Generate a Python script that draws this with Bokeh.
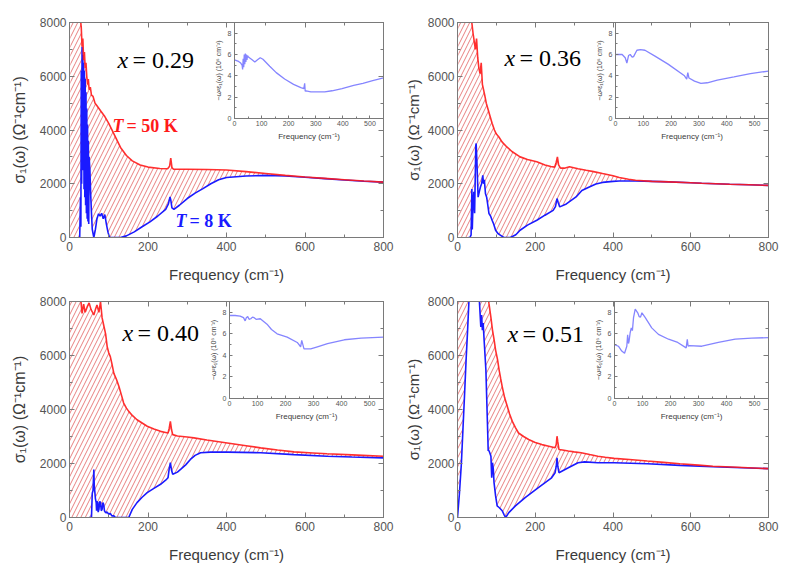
import numpy as np
from bokeh.plotting import figure
from bokeh.layouts import column, row
from bokeh.models import (Range1d, LinearAxis, SingleIntervalTicker, Label,
                          CustomJSTickFormatter)
from bokeh.embed import file_html
from bokeh.resources import INLINE

# ---------------- data ----------------
# panel x = 0.29
p1_red_x = [2, 8, 14, 20, 25, 30, 32, 34, 36, 38, 40, 42, 44, 46, 48, 50, 53, 56, 60, 65, 70, 80, 90, 100,
            115, 130, 145, 160, 180, 200, 230, 250, 255, 258, 261, 265, 300, 350, 400, 450, 500, 550, 600,
            650, 700, 750, 800]
p1_red_y = [30000, 18000, 12500, 9500, 8600, 7800, 7100, 7400, 6600, 6900, 6300, 6500, 6000, 5700, 5900,
            5500, 5600, 5300, 5250, 5000, 4900, 4700, 4500, 4250, 3800, 3350, 3050, 2850, 2700, 2620, 2570,
            2560, 2650, 2950, 2600, 2540, 2540, 2530, 2510, 2450, 2380, 2310, 2250, 2200, 2150, 2100, 2060]
p1_blue_x = [26, 28, 29, 30, 31, 32, 33, 34, 35, 36, 37, 38, 39, 40, 41, 42, 43, 44, 45, 46, 47, 48, 49,
             50, 52, 54, 56, 58, 62, 66, 70, 74, 78, 82, 86, 90, 94, 98, 102, 106, 130, 145, 165, 185, 205,
             225, 245, 252, 256, 258, 261, 266, 280, 300, 320, 340, 360, 380, 400, 450, 500, 550, 600, 650,
             700, 750, 800]
p1_blue_y = [0, 1500, 400, 6200, 2000, 7100, 3000, 6800, 2500, 6500, 1800, 6200, 1500, 5900, 1200, 5400,
             900, 4800, 700, 4200, 600, 3600, 500, 3000, 2500, 1600, 900, 300, 0, 300, 700, 880, 800, 900,
             700, 850, 500, 200, 0, 0, 0, 60, 210, 400, 580, 800, 1050, 1250, 1510, 1400, 1100, 1050, 1200,
             1450, 1650, 1820, 2000, 2150, 2230, 2290, 2310, 2290, 2240, 2190, 2140, 2095, 2060]
p1_in_x = [0, 15, 23, 28, 30, 32, 34, 36, 38, 40, 42, 44, 46, 48, 50, 55, 65, 75, 85, 95, 105, 130, 154,
           185, 218, 245, 256, 259, 261, 264, 282, 310, 333, 360, 397, 440, 474, 510, 550]
p1_in_y = [5.5, 5.35, 5.2, 5.0, 4.6, 5.6, 4.8, 6.0, 5.1, 6.1, 5.3, 6.0, 5.5, 5.9, 5.8, 5.7, 5.5, 5.3, 5.5,
           5.7, 5.55, 4.9, 4.3, 3.7, 3.2, 2.9, 2.8, 3.3, 2.55, 2.6, 2.5, 2.5, 2.5, 2.6, 2.8, 3.1, 3.3, 3.55,
           3.8]

# panel x = 0.36
p2_red_x = [2, 10, 20, 30, 36, 40, 43, 46, 49, 52, 55, 58, 61, 64, 67, 70, 74, 78, 83, 89, 95, 100, 106,
            115, 127, 140, 161, 180, 204, 225, 240, 250, 254, 257, 260, 265, 275, 288, 310, 331, 350, 373,
            400, 416, 440, 458, 500, 543, 600, 628, 700, 750, 800]
p2_red_y = [35000, 20000, 12000, 9000, 8100, 7600, 7300, 7000, 7400, 6700, 6300, 6100, 6500, 5700, 5500,
            5300, 5000, 4800, 4550, 4250, 4000, 3850, 3750, 3550, 3370, 3200, 3000, 2900, 2815, 2700, 2640,
            2620, 2800, 3000, 2700, 2580, 2580, 2630, 2560, 2500, 2450, 2380, 2300, 2230, 2170, 2130, 2090,
            2070, 2040, 2020, 1980, 1960, 1940]
p2_blue_x = [28, 32, 35, 37, 38, 40, 42, 44, 46, 47, 48, 50, 53, 56, 59, 62, 65, 67, 69, 72, 75, 78, 81,
             85, 89, 93, 98, 104, 110, 115, 119, 136, 150, 161, 180, 204, 225, 246, 252, 256, 259, 263, 280,
             305, 320, 339, 356, 373, 400, 416, 458, 500, 543, 600, 628, 700, 750, 800]
p2_blue_y = [0, 0, 100, 1800, 300, 1300, 1700, 900, 2500, 3400, 3500, 2800, 1500, 1700, 1880, 2000, 2310,
             2000, 2150, 1630, 1500, 1200, 890, 800, 640, 500, 270, 150, 90, 40, 0, 0, 100, 270, 460, 640,
             830, 1010, 1150, 1450, 1300, 1140, 1250, 1510, 1750, 1880, 1990, 2050, 2090, 2100, 2100, 2090,
             2070, 2040, 2020, 1980, 1960, 1940]
p2_in_x = [0, 24, 35, 41, 47, 53, 60, 65, 77, 90, 106, 142, 189, 248, 256, 260, 264, 284, 307, 330, 366,
           426, 485, 550]
p2_in_y = [6.0, 6.0, 5.7, 5.2, 5.9, 6.0, 5.75, 5.8, 6.4, 6.45, 6.4, 5.85, 5.1, 4.0, 3.7, 4.3, 3.8, 3.5,
           3.3, 3.35, 3.6, 3.9, 4.2, 4.45]

# panel x = 0.40
p3_red_x = [1, 10, 20, 28, 32, 36, 40, 45, 50, 55, 58, 62, 66, 70, 75, 79, 83, 87, 92, 96, 100, 104, 108,
            113, 120, 126, 132, 138, 145, 151, 160, 172, 185, 198, 215, 232, 245, 251, 254, 257, 260, 263,
            275, 300, 317, 350, 402, 450, 487, 530, 572, 620, 656, 720, 800]
p3_red_y = [30000, 15000, 10000, 8200, 7560, 7900, 7600, 7800, 7950, 7700, 7620, 7500, 7700, 7870, 7600,
            8000, 7400, 7130, 6800, 6330, 6100, 5960, 5700, 5340, 5100, 4850, 4550, 4240, 4050, 3930, 3780,
            3620, 3500, 3380, 3280, 3190, 3150, 3130, 3300, 3560, 3250, 3070, 3020, 2980, 2950, 2870, 2760,
            2660, 2580, 2500, 2430, 2390, 2360, 2320, 2270]
p3_blue_x = [50, 56, 58, 60, 62, 63, 64, 66, 68, 69, 70, 72, 73, 75, 77, 79, 81, 83, 85, 87, 89, 92, 96,
             100, 104, 108, 113, 117, 151, 160, 172, 185, 198, 215, 232, 245, 251, 254, 257, 260, 263, 275,
             283, 296, 308, 320, 334, 359, 402, 487, 572, 656, 720, 800]
p3_blue_y = [0, 0, 900, 1000, 1780, 1200, 1040, 700, 550, 250, 600, 550, 200, 300, 600, 550, 250, 300, 550,
             490, 250, 180, 200, 120, 150, 60, 60, 0, 0, 300, 550, 750, 920, 1080, 1230, 1380, 1470, 1800,
             2030, 1750, 1600, 1680, 1780, 1950, 2150, 2300, 2400, 2420, 2420, 2400, 2330, 2270, 2240, 2210]
p3_in_x = [0, 20, 38, 50, 56, 60, 65, 70, 76, 82, 88, 95, 110, 134, 150, 170, 206, 242, 254, 258, 262, 266,
           290, 314, 350, 410, 470, 550]
p3_in_y = [7.7, 7.7, 7.65, 7.5, 7.2, 7.5, 7.6, 7.35, 7.4, 7.55, 7.5, 7.35, 7.4, 6.9, 6.4, 6.0, 5.7, 5.2,
           4.8, 5.4, 5.0, 4.6, 4.6, 4.8, 5.1, 5.45, 5.6, 5.7]

# panel x = 0.51
p4_red_x = [0, 20, 40, 60, 75, 81, 86, 90, 94, 98, 103, 107, 111, 115, 121, 128, 134, 141, 149, 157, 170,
            183, 200, 217, 235, 251, 254, 256, 258, 261, 270, 285, 300, 318, 340, 361, 380, 403, 450, 488,
            530, 572, 620, 657, 720, 800]
p4_red_y = [40000, 25000, 15000, 10500, 8600, 7920, 7400, 6940, 6600, 6200, 5850, 5470, 5150, 4850, 4450,
            4120, 3830, 3560, 3330, 3130, 3000, 2890, 2780, 2700, 2640, 2580, 2700, 3010, 2800, 2520, 2500,
            2460, 2430, 2400, 2330, 2270, 2230, 2190, 2140, 2090, 2040, 1990, 1940, 1900, 1860, 1810]
p4_blue_x = [0, 5, 10, 14, 18, 22, 26, 30, 34, 40, 44, 47, 50, 53, 56, 60, 62, 64, 66, 69, 73, 77, 79, 80,
             83, 86, 88, 90, 92, 94, 98, 102, 107, 115, 120, 124, 132, 149, 174, 208, 242, 251, 254, 256,
             258, 261, 285, 310, 327, 361, 403, 488, 572, 657, 800]
p4_blue_y = [0, 900, 2000, 3260, 4500, 5800, 6940, 8200, 9500, 10500, 9800, 8300, 9500, 8400, 8100, 7060,
             7500, 6940, 7200, 6450, 5470, 3500, 2460, 2500, 2400, 2270, 1470, 2030, 1800, 1290, 800, 430,
             370, 250, 100, 0, 180, 430, 740, 1110, 1470, 1660, 1900, 2210, 1900, 1660, 1840, 2030, 2060,
             2030, 2030, 1990, 1930, 1880, 1810]
p4_in_x = [0, 14, 26, 36, 44, 47, 50, 52, 56, 60, 64, 68, 74, 83, 88, 93, 98, 110, 133, 157, 193, 226,
           256, 260, 263, 268, 312, 371, 431, 490, 550]
p4_in_y = [5.0, 4.85, 4.4, 4.2, 4.85, 5.9, 5.1, 5.3, 6.1, 6.55, 6.3, 7.5, 8.3, 7.95, 7.6, 7.55, 7.95, 7.5,
           6.55, 5.95, 5.5, 5.2, 4.7, 5.5, 4.85, 4.9, 4.85, 5.2, 5.5, 5.6, 5.65]

panel_labels = ["0.29", "0.36", "0.40", "0.51"]
temps = ["= 50 K", "= 8 K"]

X_RANGE = (0, 800)
Y_RANGE = (0, 8000)
INSET_X = (0, 550)
INSET_Y = (0, 9)

x_label = "Frequency (cm\u207b\u00b9)"
y_label = "\u03c3\u2081(\u03c9) (\u03a9\u207b\u00b9cm\u207b\u00b9)"
inset_y_label = "\u2212\u03c9\u00b2\u03b5\u2081(\u03c9) (10\u2076 cm\u207b\u00b2)"

# ---------------- styling ----------------
RED = "#ff1a1a"
BLUE = "#1a1aff"
INSET_BLUE = "#8585ff"
HATCH = "#e46a6a"
AX = "#7a7a7a"
SANS = "Liberation Sans"
SERIF = "Liberation Serif"

blank = CustomJSTickFormatter(code="return ''")


def style_axis(ax, ticker, label=None, label_size="15px", tick_size="12px", std=4, lstd=8):
    ax.ticker = ticker
    ax.axis_line_color = AX
    ax.major_tick_line_color = AX
    ax.minor_tick_line_color = AX
    ax.major_tick_in = 5
    ax.major_tick_out = 0
    ax.minor_tick_in = 3
    ax.minor_tick_out = 0
    ax.major_label_text_font = SANS
    ax.major_label_text_font_size = tick_size
    ax.major_label_text_color = "#555555"
    ax.major_label_standoff = std
    if label is not None:
        ax.axis_label = label
        ax.axis_label_text_font = SANS
        ax.axis_label_text_font_size = label_size
        ax.axis_label_text_font_style = "normal"
        ax.axis_label_text_color = "#3a3a3a"
        ax.axis_label_standoff = lstd


def make_panel(w, h, bl, br, bt, bb, red_x, red_y, blue_x, blue_y, in_x, in_y,
               inset_left, inset_h, comp, comp_pos, temp_pos=None, ylab_size="16px", ylab_std=9):
    p = figure(width=w, height=h, output_backend="svg", toolbar_location=None,
               x_range=Range1d(*X_RANGE), y_range=Range1d(*Y_RANGE),
               min_border_left=bl, min_border_right=br, min_border_top=bt, min_border_bottom=bb)
    p.grid.visible = False
    p.outline_line_color = AX
    p.background_fill_color = "white"
    p.border_fill_color = "white"

    style_axis(p.below[0], SingleIntervalTicker(interval=200, num_minor_ticks=2), x_label,
               std=4, lstd=12)
    style_axis(p.left[0], SingleIntervalTicker(interval=2000, num_minor_ticks=2), y_label,
               label_size=ylab_size, std=3, lstd=ylab_std)

    top = LinearAxis(formatter=blank)
    style_axis(top, SingleIntervalTicker(interval=200, num_minor_ticks=2), std=0)
    p.add_layout(top, "above")
    right = LinearAxis(formatter=blank)
    style_axis(right, SingleIntervalTicker(interval=2000, num_minor_ticks=2), std=0)
    p.add_layout(right, "right")

    # hatched region between the two temperatures
    bclip = [max(v, 0) for v in blue_y]
    px = list(red_x) + list(blue_x)[::-1] + [red_x[0]]
    py = list(red_y) + bclip[::-1] + [0]
    p.patch(px, py, fill_alpha=0, line_alpha=0, hatch_pattern="/", hatch_color=HATCH,
            hatch_alpha=0.85, hatch_weight=1, hatch_scale=9)

    p.line(blue_x, blue_y, line_color=BLUE, line_width=1.6)
    p.line(red_x, red_y, line_color=RED, line_width=1.6, line_alpha=0.9)

    # inset coordinates inside the frame (top-right corner)
    fw = w - bl - br
    fh = h - bt - bb
    iw = fw - inset_left
    xs = -inset_left * (INSET_X[1] - INSET_X[0]) / iw
    ys = -(fh - inset_h) * (INSET_Y[1] - INSET_Y[0]) / inset_h
    p.extra_x_ranges = {"ix": Range1d(xs, INSET_X[1])}
    p.extra_y_ranges = {"iy": Range1d(ys, INSET_Y[1])}

    p.quad(left=[INSET_X[0]], right=[INSET_X[1]], bottom=[INSET_Y[0]], top=[INSET_Y[1]],
           x_range_name="ix", y_range_name="iy", fill_color="white", line_alpha=0)
    p.line(in_x, in_y, x_range_name="ix", y_range_name="iy", line_color=INSET_BLUE, line_width=1.3)

    ixa = LinearAxis(x_range_name="ix", y_range_name="iy", fixed_location=0, bounds=INSET_X)
    style_axis(ixa, SingleIntervalTicker(interval=100, num_minor_ticks=2), x_label,
               label_size="8px", tick_size="7px", std=2, lstd=3)
    ixa.major_tick_in = 3
    ixa.minor_tick_in = 2
    p.add_layout(ixa, "below")
    iya = LinearAxis(x_range_name="ix", y_range_name="iy", fixed_location=0, bounds=INSET_Y)
    style_axis(iya, SingleIntervalTicker(interval=2, num_minor_ticks=2), inset_y_label,
               label_size="7px", tick_size="7px", std=3, lstd=3)
    iya.major_tick_in = 3
    iya.minor_tick_in = 2
    p.add_layout(iya, "left")

    # composition label
    cx, cy = comp_pos
    p.add_layout(Label(x=cx, y=cy, x_units="screen", y_units="screen", text="x",
                       text_font=SERIF, text_font_style="italic", text_font_size="24px",
                       text_color="black", text_baseline="alphabetic"))
    p.add_layout(Label(x=cx + 15, y=cy, x_units="screen", y_units="screen", text="= " + comp,
                       text_font=SERIF, text_font_size="24px", text_color="black",
                       text_baseline="alphabetic"))
    if temp_pos is not None:
        for (tx, ty), txt, col in zip(temp_pos, temps, [RED, BLUE]):
            p.add_layout(Label(x=tx, y=ty, x_units="screen", y_units="screen", text="T",
                               text_font=SERIF, text_font_style="bold italic", text_font_size="18px",
                               text_color=col, text_baseline="alphabetic"))
            p.add_layout(Label(x=tx + 14, y=ty, x_units="screen", y_units="screen", text=txt,
                               text_font=SERIF, text_font_style="bold", text_font_size="18px",
                               text_color=col, text_baseline="alphabetic"))
    return p


p1 = make_panel(401, 285, 69, 18, 22, 48, p1_red_x, p1_red_y, p1_blue_x, p1_blue_y, p1_in_x, p1_in_y,
                165, 96, panel_labels[0], (48, 178), temp_pos=[(43, 112), (106, 17)])
p2 = make_panel(394, 285, 52, 27, 22, 48, p2_red_x, p2_red_y, p2_blue_x, p2_blue_y, p2_in_x, p2_in_y,
                160, 96, panel_labels[1], (47, 180), ylab_size="15px", ylab_std=3)
p3 = make_panel(401, 285, 69, 18, 16, 53, p3_red_x, p3_red_y, p3_blue_x, p3_blue_y, p3_in_x, p3_in_y,
                160, 97, panel_labels[2], (53, 185))
p4 = make_panel(394, 285, 52, 27, 16, 53, p4_red_x, p4_red_y, p4_blue_x, p4_blue_y, p4_in_x, p4_in_y,
                159, 97, panel_labels[3], (50, 184), ylab_size="15px", ylab_std=3)

layout = column(row(p1, p2), row(p3, p4))
open("out.html", "w").write(file_html(layout, INLINE))
